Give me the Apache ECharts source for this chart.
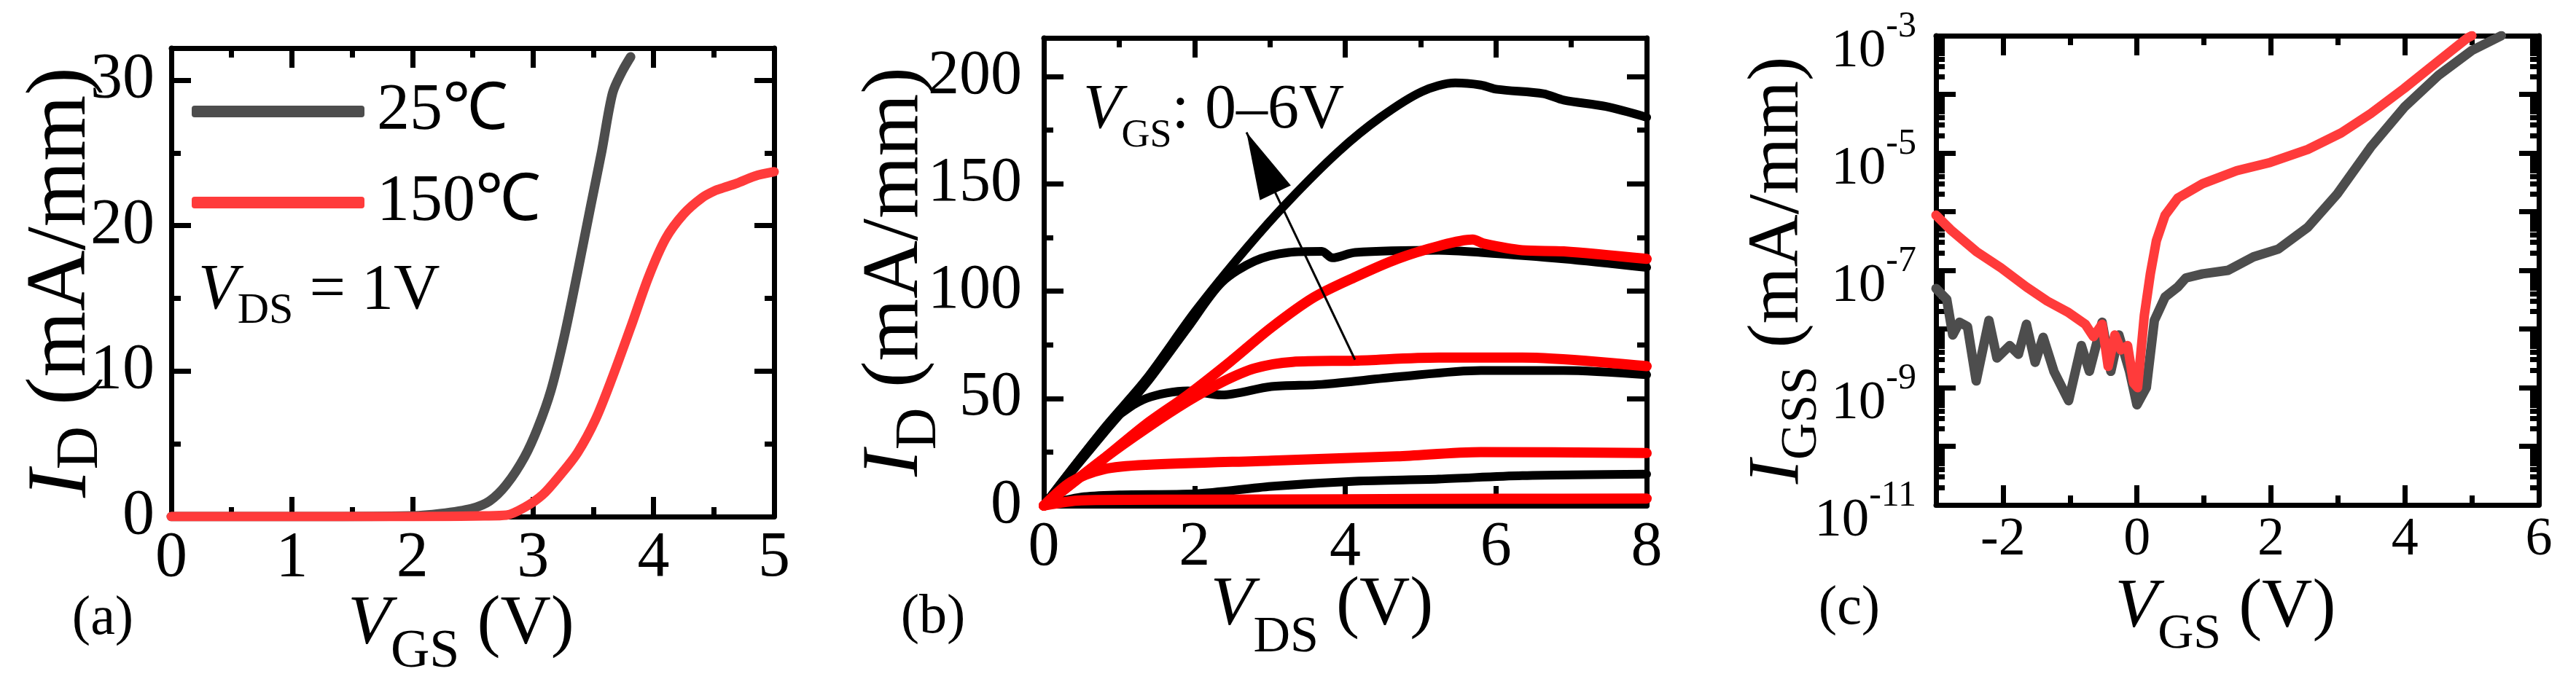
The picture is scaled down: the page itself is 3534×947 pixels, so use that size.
<!DOCTYPE html>
<html>
<head>
<meta charset="utf-8">
<script src="https://cdn.jsdelivr.net/npm/echarts@6/dist/echarts.min.js"></script>
<style>
  html, body { margin: 0; padding: 0; background: #fff; }
  #chart { width: 3534px; height: 947px; }
</style>
</head>
<body>
<div id="chart"></div>
<script>
const FONT = '"Liberation Serif", "Times New Roman", serif';
const BLACK = '#000000';
const GRAY = '#4d4d4d';
const RED = '#ff3b3b';
const PURE_RED = '#ff0000';

// (a) transfer curves at V_DS = 1 V : [V_GS (V), I_D (mA/mm)]
const transfer25 = [[0, 0], [1, 0], [2, 0.05], [2.23, 0.2], [2.49, 0.55], [2.64, 1.07], [2.78, 2.2],
  [2.93, 4.1], [3.04, 6.1], [3.15, 8.7], [3.26, 12.4], [3.37, 16.8], [3.48, 21.4], [3.57, 25.1],
  [3.66, 29.1], [3.74, 30.6], [3.81, 31.6]];
const transfer150 = [[0, 0], [1, 0], [2, 0], [2.6, 0.05], [2.78, 0.1], [2.93, 0.63], [3.08, 1.5],
  [3.22, 2.8], [3.37, 4.4], [3.52, 6.7], [3.66, 9.6], [3.81, 13.0], [3.96, 16.5], [4.10, 19.1],
  [4.25, 20.8], [4.40, 21.9], [4.51, 22.4], [4.58, 22.6], [4.69, 22.9], [4.84, 23.4], [5.0, 23.7]];

// (b) output curves, V_GS = 0..6 V : [V_DS (V), I_D (mA/mm)]
const out25Top = [[0, 0], [0.8, 36], [1.36, 59], [2.02, 91], [2.69, 120], [3.25, 142], [3.91, 165],
  [4.47, 181], [5.02, 193], [5.46, 197], [5.80, 196], [6.02, 194], [6.63, 192], [6.9, 189], [7.46, 186], [8, 181]];
const out25Second = [[0, 0], [0.8, 34], [1.36, 57], [1.91, 83], [2.36, 104], [2.80, 114], [3.25, 118],
  [3.69, 118.5], [3.83, 115.5], [4.13, 118], [5.24, 119], [5.8, 118], [6.9, 115], [8, 111]];
const out25Third = [[0, 0], [0.53, 24], [0.92, 40], [1.36, 50], [1.91, 53.5], [2.36, 51.6], [3.02, 55.5],
  [3.69, 56.5], [4.69, 60], [5.8, 63], [6.9, 63], [8, 61]];
const out25Low = [[0, 0], [0.5, 4], [1, 5], [2, 5.5], [3.02, 9], [4.13, 11.4], [5.24, 12.4], [6.35, 14], [8, 14.7]];
const out150Top = [[0, 0], [0.8, 22], [1.36, 38], [1.91, 51.6], [2.47, 67], [3.02, 83], [3.58, 97],
  [4.13, 106.5], [4.69, 115], [5.24, 121], [5.69, 124], [5.85, 122], [6.35, 119], [6.9, 118.5], [8, 115]];
const out150Second = [[0, 0], [0.8, 22], [1.36, 36], [1.91, 48.6], [2.36, 57.5], [2.80, 64], [3.3, 67],
  [4.13, 67.6], [5.24, 69], [6.35, 69], [8, 65]];
const out150Third = [[0, 0], [0.36, 11], [0.8, 17], [1.36, 19], [3.02, 21], [4.69, 23], [5.8, 25], [8, 24.5]];
const out150Low = [[0, 0], [0.5, 2.5], [2, 2.8], [4, 3], [6, 3.2], [8, 3.3]];
const arrowTail = [4.13, 68];
const arrowTip = [2.69, 174];

// (c) gate leakage : [V_GS (V), I_GSS (mA/mm)]
const igss25 = [[-3.0, 4.9e-8], [-2.84, 3.2e-8], [-2.75, 7.9e-9], [-2.65, 1.3e-8], [-2.53, 1.1e-8],
  [-2.40, 1.3e-9], [-2.21, 1.4e-8], [-2.09, 3.2e-9], [-1.90, 5.2e-9], [-1.77, 3.7e-9], [-1.65, 1.2e-8],
  [-1.52, 2.7e-9], [-1.40, 7.2e-9], [-1.24, 1.9e-9], [-1.02, 6.0e-10], [-0.83, 5.2e-9], [-0.71, 1.9e-9],
  [-0.52, 1.3e-8], [-0.39, 1.9e-9], [-0.27, 7.9e-9], [-0.11, 1.9e-9], [0.0, 5.1e-10], [0.14, 1.0e-9],
  [0.26, 1.4e-8], [0.42, 3.5e-8], [0.61, 5.2e-8], [0.73, 7.4e-8], [0.98, 8.7e-8], [1.36, 1.0e-7],
  [1.74, 1.7e-7], [2.11, 2.3e-7], [2.55, 5.4e-7], [2.99, 2.0e-6], [3.49, 1.26e-5], [3.99, 6.0e-5],
  [4.50, 2.1e-4], [5.00, 5.6e-4], [5.44, 1.0e-3]];
const igss150 = [[-3.0, 8.7e-7], [-2.78, 4.9e-7], [-2.40, 2.1e-7], [-2.03, 1.1e-7], [-1.65, 5.2e-8],
  [-1.34, 3.0e-8], [-1.02, 1.9e-8], [-0.77, 1.2e-8], [-0.65, 7.4e-9], [-0.52, 1.2e-8], [-0.43, 2.3e-9],
  [-0.33, 7.9e-9], [-0.24, 4.4e-9], [-0.14, 5.2e-9], [-0.05, 1.2e-9], [0.01, 1.0e-9], [0.11, 1.7e-8],
  [0.20, 8.7e-8], [0.29, 3.2e-7], [0.42, 8.7e-7], [0.61, 1.7e-6], [0.98, 3.0e-6], [1.49, 5.0e-6],
  [1.99, 6.9e-6], [2.55, 1.15e-5], [3.05, 2.2e-5], [3.49, 4.7e-5], [3.99, 1.26e-4], [4.50, 3.7e-4],
  [4.93, 9.1e-4], [5.0, 1.0e-3]];

// tick positions for panel (c)
const cXTicks = [-2, 0, 2, 4, 6];
const cXMinor = [-1, 1, 3, 5];
const cYTicks = [1e-11, 1e-10, 1e-9, 1e-8, 1e-7, 1e-6, 1e-5, 1e-4, 1e-3];
const cYLabels = [1e-11, 1e-9, 1e-7, 1e-5, 1e-3];
const cYMinor = [];
for (let e = -11; e < -3; e++) {
  for (let m = 2; m <= 9; m++) cYMinor.push(m * Math.pow(10, e));
}

// rich text: italic main letter, lowered subscript, normal rest
function subRich(main, sub, pad) {
  return {
    i: { fontFamily: FONT, fontStyle: 'italic', fontSize: main, lineHeight: main, verticalAlign: 'top', color: BLACK, fill: BLACK },
    s: { fontFamily: FONT, fontSize: sub, lineHeight: sub, verticalAlign: 'top', padding: [pad, 0, 0, 0], color: BLACK, fill: BLACK },
    n: { fontFamily: FONT, fontSize: main, lineHeight: main, verticalAlign: 'top', color: BLACK, fill: BLACK }
  };
}

const xAxes = [];
const yAxes = [];
function addAxis(list, o) {
  const a = {
    gridIndex: o.grid,
    position: o.pos,
    type: o.type || 'value',
    min: o.min,
    max: o.max,
    axisLine: { show: o.line !== false, onZero: false, lineStyle: { color: BLACK, width: 7 } },
    axisTick: { show: true, inside: true, length: o.tickLen || 27, lineStyle: { color: BLACK, width: 7 } },
    minorTick: { show: !!o.minorSplit, splitNumber: o.minorSplit || 2, length: 13, lineStyle: { color: BLACK, width: 7 } },
    splitLine: { show: false },
    minorSplitLine: { show: false },
    axisLabel: { show: false }
  };
  if (o.interval != null) a.interval = o.interval;
  if (o.ticks) a.axisTick.customValues = o.ticks;
  if (o.label) a.axisLabel = Object.assign({ show: true, color: BLACK, fontFamily: FONT }, o.label);
  if (o.name) {
    a.name = o.name;
    a.nameLocation = 'middle';
    a.nameGap = o.nameGap;
    // the automatic name shifting drops the axis line and ticks with these rich names
    a.nameMoveOverlap = false;
    a.nameTextStyle = Object.assign({ color: BLACK, fontFamily: FONT }, o.nameStyle);
  }
  list.push(a);
  return list.length - 1;
}

// panel (a)
const ax = addAxis(xAxes, { grid: 0, pos: 'bottom', min: 0, max: 5, interval: 1, minorSplit: 2,
  label: { fontSize: 88, margin: 14 },
  name: '{i|V}{s|GS}{n| (V)}', nameGap: 101, nameStyle: { rich: subRich(96, 74, 49), padding: [0, 32, 0, 0] } });
addAxis(xAxes, { grid: 0, pos: 'top', min: 0, max: 5, interval: 1, minorSplit: 2 });
const ay = addAxis(yAxes, { grid: 0, pos: 'left', min: 0, max: 32.2, interval: 10, minorSplit: 2,
  label: { fontSize: 88, margin: 23, showMaxLabel: false },
  name: '{i|I}{s|D}{n| (mA/mm)}', nameGap: 91, nameStyle: { rich: subRich(116, 82, 42) } });
addAxis(yAxes, { grid: 0, pos: 'right', min: 0, max: 32.2, interval: 10, minorSplit: 2 });

// panel (b)
const bx = addAxis(xAxes, { grid: 1, pos: 'bottom', min: 0, max: 8, interval: 2, minorSplit: 2,
  label: { fontSize: 86, margin: 15 },
  name: '{i|V}{s|DS}{n| (V)}', nameGap: 90, nameStyle: { rich: subRich(96, 70, 57), padding: [0, 64, 0, 0] } });
addAxis(xAxes, { grid: 1, pos: 'top', min: 0, max: 8, interval: 2, minorSplit: 2 });
const by = addAxis(yAxes, { grid: 1, pos: 'left', min: 0, max: 218, interval: 50, minorSplit: 2,
  label: { fontSize: 86, margin: 30, showMaxLabel: false },
  name: '{i|I}{s|D}{n| (mA/mm)}', nameGap: 148, nameStyle: { rich: subRich(110, 80, 48) } });
addAxis(yAxes, { grid: 1, pos: 'right', min: 0, max: 218, interval: 50, minorSplit: 2 });

// panel (c)
const cx = addAxis(xAxes, { grid: 2, pos: 'bottom', min: -3, max: 6, ticks: cXTicks,
  label: { fontSize: 74, margin: 12, customValues: cXTicks },
  name: '{i|V}{s|GS}{n| (V)}', nameGap: 94, nameStyle: { rich: subRich(96, 68, 50), padding: [0, 33, 0, 0] } });
addAxis(xAxes, { grid: 2, pos: 'top', min: -3, max: 6, ticks: cXTicks });
addAxis(xAxes, { grid: 2, pos: 'bottom', min: -3, max: 6, ticks: cXMinor, tickLen: 13, line: false });
addAxis(xAxes, { grid: 2, pos: 'top', min: -3, max: 6, ticks: cXMinor, tickLen: 13, line: false });
const cy = addAxis(yAxes, { grid: 2, pos: 'left', type: 'log', min: 1e-11, max: 1e-3, ticks: cYTicks,
  label: {
    margin: 27, customValues: cYLabels,
    formatter: v => '{b|10}{e|' + Math.round(Math.log10(v)) + '}',
    rich: {
      b: { fontFamily: FONT, fontSize: 75, lineHeight: 75, verticalAlign: 'top', padding: [22, 0, 0, 0], color: BLACK },
      e: { fontFamily: FONT, fontSize: 50, lineHeight: 50, verticalAlign: 'top', color: BLACK }
    }
  },
  name: '{i|I}{s|GSS}{n| (mA/mm)}', nameGap: 166, nameStyle: { rich: subRich(100, 70, 48) } });
addAxis(yAxes, { grid: 2, pos: 'right', type: 'log', min: 1e-11, max: 1e-3, ticks: cYTicks });
addAxis(yAxes, { grid: 2, pos: 'left', type: 'log', min: 1e-11, max: 1e-3, ticks: cYMinor, tickLen: 12, line: false });
addAxis(yAxes, { grid: 2, pos: 'right', type: 'log', min: 1e-11, max: 1e-3, ticks: cYMinor, tickLen: 12, line: false });

function curve(name, xi, yi, data, color, width, smooth) {
  return {
    name: name, type: 'line', xAxisIndex: xi, yAxisIndex: yi, data: data,
    symbol: 'none', showSymbol: false, smooth: smooth,
    lineStyle: { color: color, width: width, cap: 'round', join: 'round' },
    itemStyle: { color: color }
  };
}

const series = [
  curve('25℃', ax, ay, transfer25, GRAY, 13, 0.3),
  curve('150℃', ax, ay, transfer150, RED, 13, 0.3),

  curve('25℃ (b) top', bx, by, out25Top, BLACK, 12, 0.3),
  curve('25℃ (b) second', bx, by, out25Second, BLACK, 12, 0.3),
  curve('25℃ (b) third', bx, by, out25Third, BLACK, 12, 0.3),
  curve('25℃ (b) low', bx, by, out25Low, BLACK, 12, 0.3),
  curve('150℃ (b) top', bx, by, out150Top, PURE_RED, 14, 0.3),
  curve('150℃ (b) second', bx, by, out150Second, PURE_RED, 14, 0.3),
  curve('150℃ (b) third', bx, by, out150Third, PURE_RED, 14, 0.3),
  curve('150℃ (b) low', bx, by, out150Low, PURE_RED, 14, 0.3),

  curve('IGSS 25℃', cx, cy, igss25, GRAY, 13, 0),
  curve('IGSS 150℃', cx, cy, igss150, RED, 13, 0)
];

// V_GS sweep arrow in panel (b)
series[2].markLine = {
  silent: true,
  animation: false,
  symbol: ['none', 'triangle'],
  label: { show: false },
  lineStyle: { color: BLACK, width: 3, type: 'solid' },
  data: [[
    { coord: arrowTail, symbol: 'none' },
    { coord: arrowTip, symbol: 'triangle', symbolSize: [47, 92], symbolOffset: [0, 46] }
  ]]
};

const chart = echarts.init(document.getElementById('chart'), null, { renderer: 'canvas' });
chart.setOption({
  animation: false,
  grid: [
    { left: 235, top: 66, width: 827, height: 643 },
    { left: 1432, top: 52, width: 827, height: 642 },
    { left: 2656, top: 49, width: 827, height: 644 }
  ],
  xAxis: xAxes,
  yAxis: yAxes,
  legend: {
    data: ['25℃', '150℃'],
    orient: 'vertical',
    left: 258,
    top: 103,
    itemWidth: 237,
    itemHeight: 16,
    itemGap: 35,
    icon: 'roundRect',
    selectedMode: false,
    textStyle: { fontFamily: FONT, fontSize: 90, color: BLACK, padding: [0, 0, 0, 12] }
  },
  graphic: [
    { type: 'text', x: 141, y: 850, style: { text: '(a)', font: '76px ' + FONT, fill: BLACK, align: 'center', verticalAlign: 'middle' } },
    { type: 'text', x: 1280, y: 848, style: { text: '(b)', font: '76px ' + FONT, fill: BLACK, align: 'center', verticalAlign: 'middle' } },
    { type: 'text', x: 2537, y: 836, style: { text: '(c)', font: '76px ' + FONT, fill: BLACK, align: 'center', verticalAlign: 'middle' } },
    { type: 'text', x: 272, y: 356, style: { text: '{i|V}{s|DS}{n| = 1V}', rich: subRich(88, 60, 41), align: 'left', verticalAlign: 'top' } },
    { type: 'text', x: 1486, y: 109, style: { text: '{i|V}{s|GS}{n|: 0–6V}', rich: subRich(86, 54, 51), align: 'left', verticalAlign: 'top' } }
  ],
  series: series
});
</script>
</body>
</html>
